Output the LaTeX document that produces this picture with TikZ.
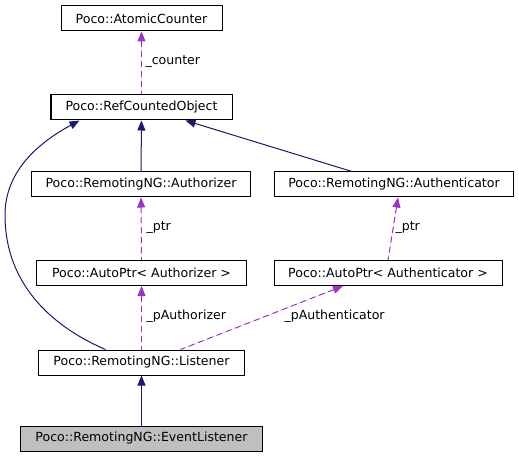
\documentclass[tikz,border=0pt]{standalone}
\usepackage{fontspec}
\setmainfont{DejaVu Sans}
\definecolor{gNavy}{HTML}{191970}
\definecolor{gOrchid}{HTML}{9A32CD}
\definecolor{gFill}{HTML}{BFBFBF}
\usetikzlibrary{arrows.meta}

\begin{document}
\begin{tikzpicture}[x=1bp, y=-1bp, line width=1bp,
    cls/.style={draw, minimum height=25bp, inner sep=0pt, font=\fontsize{12.6}{14}\selectfont},
    inh/.style={gNavy, {Triangle[length=10bp, width=8bp]}-},
    use/.style={draw=gOrchid, fill=gOrchid, dash pattern=on 6bp off 4bp, {Triangle[length=10bp, width=8bp]}-},
    lbl/.style={anchor=west, font=\fontsize{12.6}{14}\selectfont, inner sep=0pt}]
  \useasboundingbox (0,0) rectangle (519,457);
  % classes
  \node[cls, minimum width=161bp] (cnt) at (141.5,18.5) {Poco::AtomicCounter};
  \node[cls, minimum width=181bp] (rco) at (141.5,107.5) {Poco::RefCountedObject};
  \node[cls, minimum width=219bp] (authz) at (141,184.5) {Poco::RemotingNG::Authorizer};
  \node[cls, minimum width=239bp] (authn) at (394,184.5) {Poco::RemotingNG::Authenticator};
  \node[cls, minimum width=209bp] (ptrz) at (141.5,273) {Poco::AutoPtr< Authorizer >};
  \node[cls, minimum width=228bp] (ptrn) at (388,273) {Poco::AutoPtr< Authenticator >};
  \node[cls, minimum width=205bp] (lis) at (141.5,362.5) {Poco::RemotingNG::Listener};
  \node[cls, fill=gFill, minimum width=241bp] (evl) at (141.5,438.5) {Poco::RemotingNG::EventListener};
  % inheritance
  \draw[inh] (rco) -- (authz);
  \draw[inh] ([xshift=44bp]rco.south) -- ([xshift=-42bp]authn.north);
  \draw[inh] ([xshift=-62bp]rco.south) .. controls (40,142) and (5,170) .. (5,215)
    .. controls (5,290) and (60,330) .. ([xshift=-36bp]lis.north);
  \draw[inh] (lis) -- (evl);
  % members
  \draw[use] (cnt) -- (rco);
  \draw[use] (authz) -- (ptrz);
  \draw[use] ([xshift=4bp]authn.south) -- (ptrn.north);
  \draw[use] (ptrz) -- (lis);
  \draw[use] ([xshift=-45bp]ptrn.south) -- ([xshift=39bp]lis.north);
  % labels
  \node[lbl] (lcnt) at (145,62) {\_counter};
  \node[lbl] (lptrz) at (146,228) {\_ptr};
  \node[lbl] (lptrn) at (395,228) {\_ptr};
  \node[lbl] (lpz) at (146,316) {\_pAuthorizer};
  \node[lbl] (lpn) at (284,316) {\_pAuthenticator};
\end{tikzpicture}
\end{document}
